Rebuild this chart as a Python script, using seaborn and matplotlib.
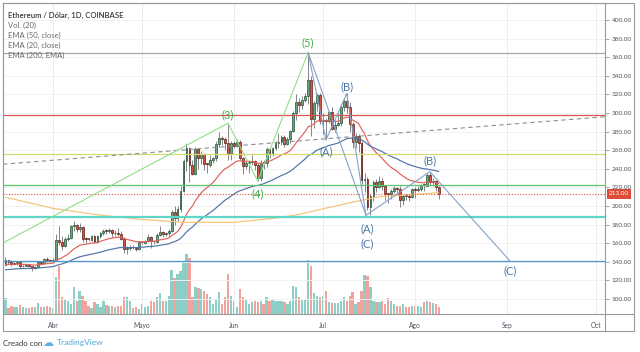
import numpy as np
import pandas as pd
import matplotlib
matplotlib.use("Agg")
import matplotlib.pyplot as plt
import matplotlib.transforms as mtransforms
from matplotlib.patches import Rectangle
from matplotlib.lines import Line2D
import seaborn as sns

# ---------------- data ----------------
first_day = "2019-03-16"
last_day = "2019-08-09"
first_open = 137.0

close = [
    142.0, 139.5, 137.5, 139.0, 139.5, 135.0, 136.0, 136.5, 135.5, 133.0, 134.5, 140.0, 139.0, 143.0, 142.0, 141.0,
    142.0, 164.0, 161.0, 157.0, 165.0, 166.0, 178.0, 179.5, 175.0, 177.0, 165.0, 164.5, 164.0, 167.5, 161.5,
    168.0, 170.5, 173.5, 173.0, 174.0, 170.5, 171.5, 169.5, 165.0, 153.5, 155.0, 155.5, 155.0, 154.0, 161.0,
    160.5, 162.0, 166.5, 162.0, 161.5, 169.0, 172.0, 170.0, 170.5, 173.5, 194.0, 187.5, 196.5, 216.5, 248.0,
    262.5, 244.5, 234.5, 261.5, 251.5, 255.5, 245.0, 244.5, 249.5, 251.5, 266.5, 273.0, 272.0, 268.0, 255.5, 268.0,
    265.0, 269.0, 252.0, 243.0, 246.5, 247.0, 248.0, 244.5, 230.0, 246.5, 246.0, 261.0, 256.5, 262.5, 268.0,
    268.5, 274.5, 267.0, 272.0, 280.5, 299.5, 311.5, 309.0, 313.5, 318.0, 336.0, 294.0, 310.5, 319.5, 291.0,
    292.5, 291.0, 301.5, 283.0, 287.5, 289.0, 307.0, 313.0, 307.0, 288.5, 268.5, 275.5, 268.0, 228.0, 229.5,
    199.0, 211.0, 226.0, 220.5, 227.0, 221.0, 213.0, 212.5, 216.0, 219.0, 218.0, 206.0, 211.0, 210.5, 209.5, 218.5,
    217.5, 218.5, 222.5, 222.0, 233.5, 225.5, 227.0, 220.0, 213.0,
]
high = [
    145, 142.5, 142, 140, 141, 140, 137, 138, 137, 136, 135, 141, 141, 144, 145, 143,
    144, 170, 178, 168, 167, 170, 180, 184, 181, 182, 178, 167, 166, 169, 169,
    168.5, 172, 175, 175, 176, 175, 174, 176, 173, 166.5, 157, 158, 158, 156, 162,
    162, 163, 170, 168, 164, 171, 178, 173, 172, 175, 196, 200, 200, 222, 251,
    268, 264, 250, 264, 262, 259, 257, 246, 255, 253, 270, 280, 275, 274, 289, 270,
    270, 272, 271, 253, 250, 249, 255, 250, 246, 249, 250, 264, 263, 264, 270,
    278, 276, 276, 274, 282, 302, 320, 316, 318, 322, 365, 340, 313, 322, 321,
    300, 295, 302, 307, 292, 300, 309, 315, 321, 312, 290, 278, 277, 270, 236,
    231, 213, 228, 229, 232, 230, 223, 214, 218, 222, 220, 222, 212, 213, 213, 219,
    220, 221, 224, 225, 235, 237, 230, 228, 221,
]
low = [
    136.5, 137.5, 136, 136.5, 137, 133, 134, 135, 134.5, 130, 132, 134, 138, 138.5, 140, 140,
    140, 141, 158, 153, 156, 162, 165, 173, 172, 172, 161, 160, 162, 162, 160,
    160.5, 166, 169, 170, 171, 167, 168, 168, 163, 149, 148, 153, 153.5, 152, 153,
    159, 159, 161, 155, 159, 160, 168, 167, 168, 168, 172, 180, 184, 194, 215,
    238, 226, 233, 233, 240, 245, 239, 235, 242, 246, 248, 264, 266, 260, 250, 250,
    262, 263, 250, 234, 240, 236, 244, 239, 227, 227, 240, 242, 252, 254, 260,
    262, 266, 263, 266, 268, 280, 293, 301, 304, 312, 310, 275, 284, 302, 288,
    277, 271, 289, 282, 280, 286, 286, 302, 300, 280, 262, 262, 258, 224, 215,
    196, 190, 205, 215, 219, 217, 207, 203, 208, 214, 213, 199, 201, 207, 205, 209,
    209, 215, 216, 216, 222, 223, 221, 216, 208,
]
volume = [
    47, 18, 25, 22, 20, 28, 20, 17, 18, 20, 20, 32, 22, 20, 25, 22,
    17, 110, 145, 50, 42, 40, 30, 80, 40, 68, 55, 40, 25, 17, 35,
    30, 20, 38, 28, 25, 24, 22, 25, 25, 50, 52, 40, 18, 20, 15,
    30, 20, 25, 40, 35, 50, 62, 40, 38, 55, 132, 108, 120, 130, 155,
    180, 168, 52, 82, 78, 75, 70, 60, 52, 30, 45, 65, 30, 50, 120, 55,
    40, 20, 75, 50, 45, 30, 35, 40, 35, 40, 30, 50, 40, 45, 40,
    38, 40, 35, 30, 40, 85, 80, 50, 45, 45, 162, 145, 62, 55, 50,
    55, 68, 35, 32, 32, 32, 40, 50, 40, 55, 65, 30, 35, 70, 118,
    115, 80, 40, 35, 37, 40, 30, 48, 40, 30, 25, 25, 30, 20, 20, 25,
    25, 25, 22, 35, 40, 35, 32, 30, 20,
]
ema20_seed = 136.5
ema50_seed = 131.0
ema200_dates = ["2019-03-16", "2019-04-01", "2019-04-15", "2019-05-01", "2019-05-15", "2019-06-01",
                "2019-06-15", "2019-06-23", "2019-07-01", "2019-07-13", "2019-07-20", "2019-08-01", "2019-08-09"]
ema200_values = [209.5, 197.5, 191.0, 185.5, 182.5, 182.5, 187.0, 191.0, 197.0, 205.5, 210.0, 212.5, 214.5]

levels = [365.0, 298.0, 256.0, 222.5, 188.5, 141.0]
level_colors = ["#a6a6a6", "#d9534f", "#d4db72", "#5cc46a", "#5fd6c8", "#4f93cf"]
level_widths = [0.9, 0.9, 0.9, 0.9, 1.6, 0.9]
last_price = 213.0

trend_dates = ["2019-03-15T04:00", "2019-10-04T01:00"]
trend_prices = [245.0, 296.0]

impulse_dates = ["2019-03-15T00:00", "2019-05-30T00:00", "2019-06-09T00:00", "2019-06-26T00:00"]
impulse_prices = [160.0, 289.0, 227.0, 365.0]
impulse_labels = [("(3)", "2019-05-30", 289.0, 8), ("(4)", "2019-06-09", 227.0, -13), ("(5)", "2019-06-26", 365.0, 10)]

corr_paths = [
    (["2019-06-26T00:00", "2019-07-02T00:00", "2019-07-09T00:00", "2019-07-15T12:00"], [365.0, 271.0, 321.0, 190.0]),
    (["2019-06-26T00:00", "2019-07-15T12:00"], [365.0, 190.0]),
    (["2019-07-15T12:00", "2019-08-06T00:00", "2019-09-02T00:00"], [190.0, 237.0, 141.0]),
]
corr_labels = [("(A)", "2019-07-02", 271.0, -12), ("(B)", "2019-07-09", 321.0, 7),
               ("(A)", "2019-07-16", 190.0, -13), ("(C)", "2019-07-16", 190.0, -28),
               ("(B)", "2019-08-06", 237.0, 11), ("(C)", "2019-09-02", 141.0, -10)]

month_ticks = ["2019-04-01", "2019-05-01", "2019-06-01", "2019-07-01", "2019-08-01", "2019-09-01", "2019-10-01"]
month_labels = ["Abr", "Mayo", "Jun", "Jul", "Ago", "Sep", "Oct"]
price_ticks = list(range(100, 401, 20))

legend_lines = ["Ethereum / Dólar, 1D, COINBASE", "Vol. (20)", "EMA (50, close)", "EMA (20, close)", "EMA (200, EMA)"]

# ---------------- derived ----------------
def ts(lst):
    return pd.to_datetime(lst, format="ISO8601")

dates = pd.date_range(first_day, last_day, freq="D")
assert len(dates) == len(close) == len(high) == len(low) == len(volume)
opens = [first_open] + close[:-1]
df = pd.DataFrame({"date": dates, "open": opens, "high": high, "low": low, "close": close, "volume": volume})
df["up"] = df["close"] >= df["open"]
df["ema20"] = pd.concat([pd.Series([ema20_seed]), df["close"]]).ewm(span=20, adjust=False).mean().iloc[1:].to_numpy()
df["ema50"] = pd.concat([pd.Series([ema50_seed]), df["close"]]).ewm(span=50, adjust=False).mean().iloc[1:].to_numpy()

# ---------------- style ----------------
sns.set_theme(style="white")
plt.rcParams["font.family"] = ["Lato", "DejaVu Sans"]

W, H = 640, 352
fig = plt.figure(figsize=(W / 100, H / 100), dpi=100)
fig.patch.set_facecolor("white")


def rect(x0, y0, x1, y1):
    return [x0 / W, 1 - y1 / H, (x1 - x0) / W, (y1 - y0) / H]


ax_vol = fig.add_axes(rect(3, 3, 605, 314))
ax = fig.add_axes(rect(3, 3, 605, 314), sharex=ax_vol)
ax.patch.set_alpha(0)
ax_vol.set_facecolor("white")

# volume
vol_colors = np.where(df["up"], "#8dcfc6", "#f2a29d")
ax_vol.bar(df["date"], df["volume"], width=0.78, color=vol_colors, linewidth=0)
ax_vol.set_ylim(0, max(volume) * 5.18)
ax_vol.set_yticks([])
for s in ax_vol.spines.values():
    s.set_visible(False)
ax_vol.tick_params(axis="x", which="both", bottom=False, labelbottom=False)

# grid
for m in month_ticks:
    ax.axvline(pd.Timestamp(m), color="#ececec", lw=0.7, zorder=0)
for p in price_ticks:
    ax.axhline(p, color="#f1f1f1", lw=0.7, zorder=0)

# candles
up_body, dn_body = "#6ba583", "#d75442"
up_edge, dn_edge = "#225437", "#5b1a13"
ax.vlines(df["date"], df["low"], df["high"], color="#737375", lw=0.6, zorder=3)
body_h = (df["close"] - df["open"]).to_numpy()
body_h = np.where(np.abs(body_h) < 0.8, 0.8, body_h)
ax.bar(df["date"], body_h, bottom=df["open"], width=0.62,
       color=np.where(df["up"], up_body, dn_body),
       edgecolor=np.where(df["up"], up_edge, dn_edge), linewidth=0.5, zorder=3.2)

# EMAs
sns.lineplot(x=df["date"], y=df["ema20"], ax=ax, color="#e0605a", lw=0.85, zorder=4, legend=False)
sns.lineplot(x=df["date"], y=df["ema50"], ax=ax, color="#4f72a8", lw=0.85, zorder=4, legend=False)
sns.lineplot(x=ts(ema200_dates), y=ema200_values, ax=ax, color="#f4c477", lw=0.85, zorder=4, legend=False)

# horizontal levels
for lv, c, w in zip(levels, level_colors, level_widths):
    ax.axhline(lv, color=c, lw=w, zorder=5)
ax.axhline(last_price, color="#d75442", lw=0.8, ls=(0, (1, 1.5)), zorder=5)

# dashed trend line
ax.plot(ts(trend_dates), trend_prices, color="#8e8e8e", lw=0.8, ls=(0, (4, 3)), zorder=5)

# wave lines
ax.plot(ts(impulse_dates), impulse_prices, color="#8fdf8a", lw=0.8, zorder=6)
for dts, prs in corr_paths:
    ax.plot(ts(dts), prs, color="#86a3c9", lw=0.8, zorder=6)

for txt, d, p, dy in impulse_labels:
    ax.annotate(txt, (pd.Timestamp(d), p), xytext=(0, dy * 0.72), textcoords="offset points",
                ha="center", va="center", fontsize=8, color="#3fb04a", zorder=7)
for txt, d, p, dy in corr_labels:
    ax.annotate(txt, (pd.Timestamp(d), p), xytext=(0, dy * 0.72), textcoords="offset points",
                ha="center", va="center", fontsize=8, color="#4a78a8", zorder=7)

# axes
ax.set_xlim(pd.Timestamp("2019-03-15 04:00"), pd.Timestamp("2019-10-04 01:00"))
ax.set_ylim(83.9, 418.3)
ax.set_xlabel("")
ax.set_ylabel("")
ax.yaxis.tick_right()
ax.set_yticks(price_ticks)
ax.set_yticklabels([f"{p:.2f}" for p in price_ticks])
ax.set_xticks(ts(month_ticks))
ax.set_xticklabels(month_labels)
ax.tick_params(axis="y", which="both", direction="out", length=3, width=0.6, color="#9598a1",
               labelsize=4.6, labelcolor="#4c525e", pad=2, left=False, right=True)
ax.tick_params(axis="x", which="both", direction="out", length=3, width=0.6, color="#9598a1",
               labelsize=4.8, labelcolor="#4c525e", pad=2.5)
for s in ax.spines.values():
    s.set_color("#9a9a9a")
    s.set_linewidth(0.8)

# last price tag
trans = mtransforms.blended_transform_factory(ax.transAxes, ax.transData)
ax.text(1 + 4 / 602, last_price, f"{last_price:.2f}", transform=trans, ha="left", va="center",
        fontsize=4.6, color="white", zorder=10, clip_on=False,
        bbox=dict(boxstyle="square,pad=0.35", fc="#dd4b39", ec="none"))

# outer frame (price scale + time scale)
fig.add_artist(Rectangle((3 / W, 1 - 331 / H), (634 - 3) / W, (331 - 3) / H, transform=fig.transFigure,
                         fill=False, ec="#9a9a9a", lw=0.8))
fig.add_artist(Line2D([605 / W, 634 / W], [1 - 314 / H, 1 - 314 / H], transform=fig.transFigure,
                      color="#9a9a9a", lw=0.8))
fig.add_artist(Line2D([605 / W, 605 / W], [1 - 331 / H, 1 - 314 / H], transform=fig.transFigure,
                      color="#9a9a9a", lw=0.8))

# legend texts
for i, t in enumerate(legend_lines):
    fig.text(8 / W, 1 - (15 + 10 * i) / H, t, ha="left", va="center",
             fontsize=5.6 if i == 0 else 5.5, color="#3a3a3a" if i == 0 else "#6b6b6b",
             fontweight="semibold" if i == 0 else "normal")

# credit
fig.text(3 / W, 1 - 343 / H, "Creado con", ha="left", va="center", fontsize=5.6, color="#333333")
fig.text(42 / W, 1 - 343 / H, "\u2601", ha="left", va="center", fontsize=8, color="#5bb3e6",
         family=["DejaVu Sans"])
fig.text(57 / W, 1 - 343 / H, "TradingView", ha="left", va="center", fontsize=6, color="#4aa8e0")

fig.savefig("out.png", dpi=100)
